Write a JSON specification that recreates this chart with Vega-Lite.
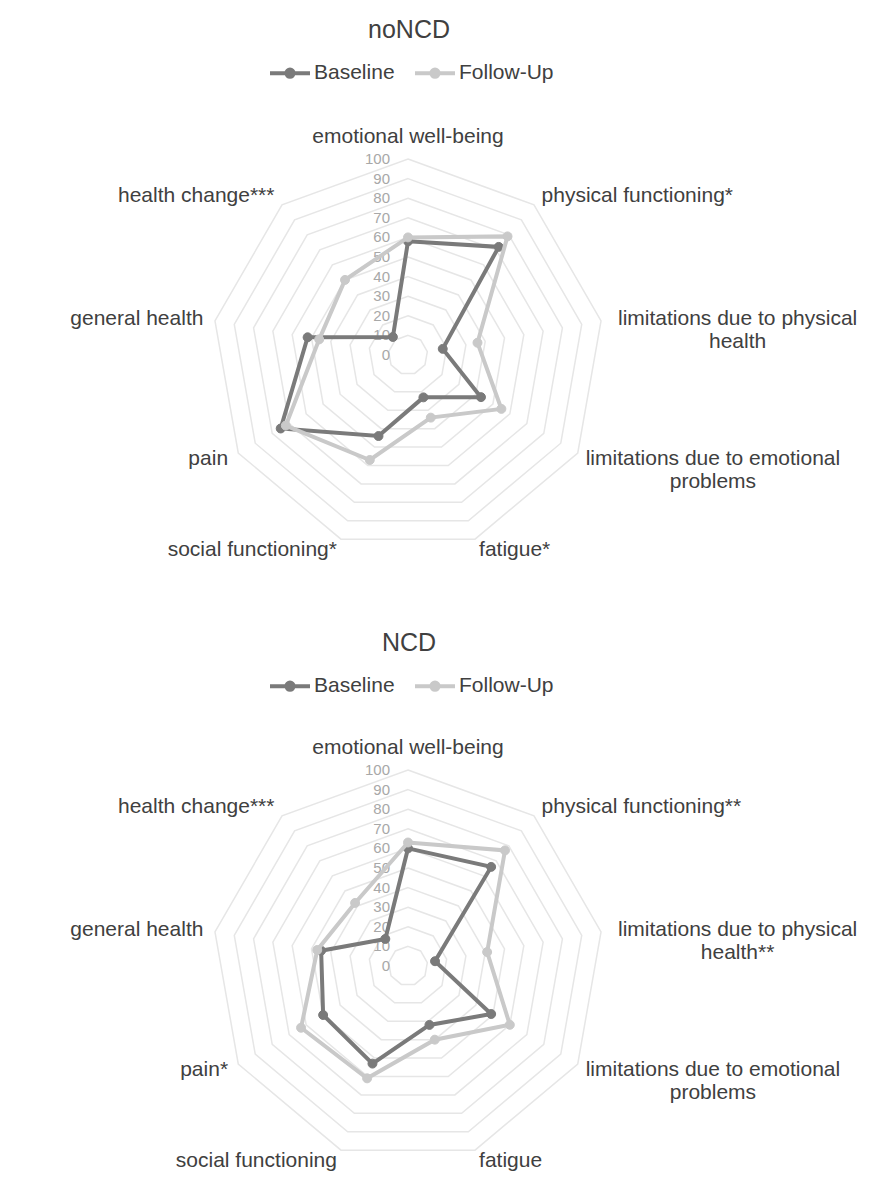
{
  "$schema": "https://vega.github.io/schema/vega-lite/v6.json",
  "config": {
    "view": {"stroke": null},
    "font": "Liberation Sans",
    "text": {"font": "Liberation Sans"}
  },
  "padding": {"top": 18, "left": 0, "right": 0, "bottom": 0},
  "spacing": 18,
  "datasets": {
    "noNCD": [
      {"i": 0, "label": "emotional well-being", "Baseline": 58, "Follow-Up": 60},
      {"i": 1, "label": "physical functioning*", "Baseline": 72, "Follow-Up": 79},
      {"i": 2, "label": "limitations due to physical\nhealth", "Baseline": 18, "Follow-Up": 36},
      {"i": 3, "label": "limitations due to emotional\nproblems", "Baseline": 43, "Follow-Up": 55},
      {"i": 4, "label": "fatigue*", "Baseline": 23, "Follow-Up": 34},
      {"i": 5, "label": "social functioning*", "Baseline": 44, "Follow-Up": 57},
      {"i": 6, "label": "pain", "Baseline": 75, "Follow-Up": 72},
      {"i": 7, "label": "general health", "Baseline": 52, "Follow-Up": 46},
      {"i": 8, "label": "health change***", "Baseline": 12, "Follow-Up": 50}
    ],
    "NCD": [
      {"i": 0, "label": "emotional well-being", "Baseline": 60, "Follow-Up": 63},
      {"i": 1, "label": "physical functioning**", "Baseline": 66, "Follow-Up": 77},
      {"i": 2, "label": "limitations due to physical\nhealth**", "Baseline": 14, "Follow-Up": 41},
      {"i": 3, "label": "limitations due to emotional\nproblems", "Baseline": 49, "Follow-Up": 60},
      {"i": 4, "label": "fatigue", "Baseline": 32, "Follow-Up": 40},
      {"i": 5, "label": "social functioning", "Baseline": 53, "Follow-Up": 61},
      {"i": 6, "label": "pain*", "Baseline": 50, "Follow-Up": 63},
      {"i": 7, "label": "general health", "Baseline": 45, "Follow-Up": 47},
      {"i": 8, "label": "health change***", "Baseline": 18, "Follow-Up": 42}
    ],
    "grid": [
      {"i": 0, "r": [10, 20, 30, 40, 50, 60, 70, 80, 90, 100]},
      {"i": 1, "r": [10, 20, 30, 40, 50, 60, 70, 80, 90, 100]},
      {"i": 2, "r": [10, 20, 30, 40, 50, 60, 70, 80, 90, 100]},
      {"i": 3, "r": [10, 20, 30, 40, 50, 60, 70, 80, 90, 100]},
      {"i": 4, "r": [10, 20, 30, 40, 50, 60, 70, 80, 90, 100]},
      {"i": 5, "r": [10, 20, 30, 40, 50, 60, 70, 80, 90, 100]},
      {"i": 6, "r": [10, 20, 30, 40, 50, 60, 70, 80, 90, 100]},
      {"i": 7, "r": [10, 20, 30, 40, 50, 60, 70, 80, 90, 100]},
      {"i": 8, "r": [10, 20, 30, 40, 50, 60, 70, 80, 90, 100]}
    ],
    "ticks": [
      {"r": 0}, {"r": 10}, {"r": 20}, {"r": 30}, {"r": 40}, {"r": 50},
      {"r": 60}, {"r": 70}, {"r": 80}, {"r": 90}, {"r": 100}
    ]
  },
  "resolve": {
    "scale": {"x": "independent", "y": "independent", "stroke": "independent", "fill": "independent"},
    "legend": {"stroke": "independent", "fill": "independent"}
  },
  "vconcat": [
    {
      "title": {"text": "noNCD", "fontSize": 25, "fontWeight": "normal", "color": "#404040", "anchor": "middle", "dx": -26, "offset": 7},
      "width": 870,
      "height": 563,
      "encoding": {
        "x": {"field": "x", "type": "quantitative", "axis": null, "scale": {"domain": [-208.16, 235.71], "nice": false, "zero": false}},
        "y": {"field": "y", "type": "quantitative", "axis": null, "scale": {"domain": [-131.63, 155.61], "nice": false, "zero": false}}
      },
      "layer": [
        {
          "data": {"name": "grid"},
          "transform": [
            {"flatten": ["r"]},
            {"calculate": "datum.r*sin(datum.i*PI/4.5)", "as": "x"},
            {"calculate": "datum.r*cos(datum.i*PI/4.5)", "as": "y"}
          ],
          "mark": {"type": "line", "interpolate": "linear-closed", "stroke": "#e6e6e6", "strokeWidth": 1.5},
          "encoding": {"detail": {"field": "r"}, "order": {"field": "i"}}
        },
        {
          "data": {"name": "ticks"},
          "transform": [
            {"calculate": "0", "as": "x"},
            {"calculate": "datum.r", "as": "y"}
          ],
          "mark": {"type": "text", "align": "right", "baseline": "middle", "dx": -18, "fontSize": 15, "color": "#a8a8a8"},
          "encoding": {"text": {"field": "r"}}
        },
        {
          "data": {"name": "noNCD"},
          "transform": [
            {"filter": "datum.i == 0"},
            {"calculate": "106*sin(datum.i*PI/4.5)", "as": "x"},
            {"calculate": "106*cos(datum.i*PI/4.5)", "as": "y"}
          ],
          "mark": {"type": "text", "align": "center", "baseline": "bottom", "fontSize": 21, "color": "#404040"},
          "encoding": {"text": {"field": "label"}}
        },
        {
          "data": {"name": "noNCD"},
          "transform": [
            {"filter": "datum.i == 1 || datum.i == 4"},
            {"calculate": "106*sin(datum.i*PI/4.5)", "as": "x"},
            {"calculate": "106*cos(datum.i*PI/4.5)", "as": "y"}
          ],
          "mark": {"type": "text", "align": "left", "baseline": "middle", "fontSize": 21, "color": "#404040"},
          "encoding": {"text": {"field": "label"}}
        },
        {
          "data": {"name": "noNCD"},
          "transform": [
            {"filter": "datum.i == 2 || datum.i == 3"},
            {"calculate": "106*sin(datum.i*PI/4.5)", "as": "x"},
            {"calculate": "106*cos(datum.i*PI/4.5)", "as": "y"}
          ],
          "mark": {"type": "text", "align": "center", "baseline": "middle", "dx": 125, "lineBreak": "\n", "lineHeight": 23, "fontSize": 21, "color": "#404040"},
          "encoding": {"text": {"field": "label"}}
        },
        {
          "data": {"name": "noNCD"},
          "transform": [
            {"filter": "datum.i >= 5"},
            {"calculate": "106*sin(datum.i*PI/4.5)", "as": "x"},
            {"calculate": "106*cos(datum.i*PI/4.5)", "as": "y"}
          ],
          "mark": {"type": "text", "align": "right", "baseline": "middle", "fontSize": 21, "color": "#404040"},
          "encoding": {"text": {"field": "label"}}
        },
        {
          "data": {"name": "noNCD"},
          "transform": [
            {"fold": ["Baseline", "Follow-Up"], "as": ["series", "value"]},
            {"calculate": "datum.value*sin(datum.i*PI/4.5)", "as": "x"},
            {"calculate": "datum.value*cos(datum.i*PI/4.5)", "as": "y"}
          ],
          "layer": [
            {
              "transform": [{"filter": "datum.series == 'Baseline'"}],
              "mark": {"type": "line", "interpolate": "linear-closed", "strokeWidth": 4},
              "encoding": {"order": {"field": "i"}}
            },
            {
              "transform": [{"filter": "datum.series == 'Baseline'"}],
              "mark": {"type": "point", "filled": true, "size": 80, "opacity": 1, "strokeWidth": 1},
              "encoding": {
                "fill": {
                  "field": "series", "type": "nominal",
                  "scale": {"domain": ["Baseline", "Follow-Up"], "range": ["#7a7a7a", "#c9c9c9"]},
                  "legend": {"orient": "none", "legendX": 268, "legendY": 1, "direction": "horizontal", "title": null, "labelFontSize": 21, "labelColor": "#404040", "labelFont": "Liberation Sans", "symbolType": "M-1,0H1M-0.18,0A0.18,0.18,0,1,0,0.18,0A0.18,0.18,0,1,0,-0.18,0Z", "symbolSize": 1600, "symbolStrokeWidth": 4, "labelOffset": 2, "columnPadding": 12}
                }
              }
            },
            {
              "transform": [{"filter": "datum.series == 'Follow-Up'"}],
              "mark": {"type": "line", "interpolate": "linear-closed", "strokeWidth": 4},
              "encoding": {"order": {"field": "i"}}
            },
            {
              "transform": [{"filter": "datum.series == 'Follow-Up'"}],
              "mark": {"type": "point", "filled": true, "size": 80, "opacity": 1, "strokeWidth": 1},
              "encoding": {
                "fill": {
                  "field": "series", "type": "nominal",
                  "scale": {"domain": ["Baseline", "Follow-Up"], "range": ["#7a7a7a", "#c9c9c9"]},
                  "legend": {"orient": "none", "legendX": 268, "legendY": 1, "direction": "horizontal", "title": null, "labelFontSize": 21, "labelColor": "#404040", "labelFont": "Liberation Sans", "symbolType": "M-1,0H1M-0.18,0A0.18,0.18,0,1,0,0.18,0A0.18,0.18,0,1,0,-0.18,0Z", "symbolSize": 1600, "symbolStrokeWidth": 4, "labelOffset": 2, "columnPadding": 12}
                }
              }
            }
          ],
          "encoding": {
            "stroke": {
              "field": "series", "type": "nominal",
              "scale": {"domain": ["Baseline", "Follow-Up"], "range": ["#7a7a7a", "#c9c9c9"]},
              "legend": {"orient": "none", "legendX": 268, "legendY": 1, "direction": "horizontal", "title": null, "labelFontSize": 21, "labelColor": "#404040", "labelFont": "Liberation Sans", "symbolType": "M-1,0H1M-0.18,0A0.18,0.18,0,1,0,0.18,0A0.18,0.18,0,1,0,-0.18,0Z", "symbolSize": 1600, "symbolStrokeWidth": 4, "labelOffset": 2, "columnPadding": 12}
            }
          }
        }
      ]
    },
    {
      "title": {"text": "NCD", "fontSize": 25, "fontWeight": "normal", "color": "#404040", "anchor": "middle", "dx": -26, "offset": 7},
      "width": 870,
      "height": 537,
      "encoding": {
        "x": {"field": "x", "type": "quantitative", "axis": null, "scale": {"domain": [-208.16, 235.71], "nice": false, "zero": false}},
        "y": {"field": "y", "type": "quantitative", "axis": null, "scale": {"domain": [-119.39, 154.59], "nice": false, "zero": false}}
      },
      "layer": [
        {
          "data": {"name": "grid"},
          "transform": [
            {"flatten": ["r"]},
            {"calculate": "datum.r*sin(datum.i*PI/4.5)", "as": "x"},
            {"calculate": "datum.r*cos(datum.i*PI/4.5)", "as": "y"}
          ],
          "mark": {"type": "line", "interpolate": "linear-closed", "stroke": "#e6e6e6", "strokeWidth": 1.5},
          "encoding": {"detail": {"field": "r"}, "order": {"field": "i"}}
        },
        {
          "data": {"name": "ticks"},
          "transform": [
            {"calculate": "0", "as": "x"},
            {"calculate": "datum.r", "as": "y"}
          ],
          "mark": {"type": "text", "align": "right", "baseline": "middle", "dx": -18, "fontSize": 15, "color": "#a8a8a8"},
          "encoding": {"text": {"field": "r"}}
        },
        {
          "data": {"name": "NCD"},
          "transform": [
            {"filter": "datum.i == 0"},
            {"calculate": "106*sin(datum.i*PI/4.5)", "as": "x"},
            {"calculate": "106*cos(datum.i*PI/4.5)", "as": "y"}
          ],
          "mark": {"type": "text", "align": "center", "baseline": "bottom", "fontSize": 21, "color": "#404040"},
          "encoding": {"text": {"field": "label"}}
        },
        {
          "data": {"name": "NCD"},
          "transform": [
            {"filter": "datum.i == 1 || datum.i == 4"},
            {"calculate": "106*sin(datum.i*PI/4.5)", "as": "x"},
            {"calculate": "106*cos(datum.i*PI/4.5)", "as": "y"}
          ],
          "mark": {"type": "text", "align": "left", "baseline": "middle", "fontSize": 21, "color": "#404040"},
          "encoding": {"text": {"field": "label"}}
        },
        {
          "data": {"name": "NCD"},
          "transform": [
            {"filter": "datum.i == 2 || datum.i == 3"},
            {"calculate": "106*sin(datum.i*PI/4.5)", "as": "x"},
            {"calculate": "106*cos(datum.i*PI/4.5)", "as": "y"}
          ],
          "mark": {"type": "text", "align": "center", "baseline": "middle", "dx": 125, "lineBreak": "\n", "lineHeight": 23, "fontSize": 21, "color": "#404040"},
          "encoding": {"text": {"field": "label"}}
        },
        {
          "data": {"name": "NCD"},
          "transform": [
            {"filter": "datum.i >= 5"},
            {"calculate": "106*sin(datum.i*PI/4.5)", "as": "x"},
            {"calculate": "106*cos(datum.i*PI/4.5)", "as": "y"}
          ],
          "mark": {"type": "text", "align": "right", "baseline": "middle", "fontSize": 21, "color": "#404040"},
          "encoding": {"text": {"field": "label"}}
        },
        {
          "data": {"name": "NCD"},
          "transform": [
            {"fold": ["Baseline", "Follow-Up"], "as": ["series", "value"]},
            {"calculate": "datum.value*sin(datum.i*PI/4.5)", "as": "x"},
            {"calculate": "datum.value*cos(datum.i*PI/4.5)", "as": "y"}
          ],
          "layer": [
            {
              "transform": [{"filter": "datum.series == 'Baseline'"}],
              "mark": {"type": "line", "interpolate": "linear-closed", "strokeWidth": 4},
              "encoding": {"order": {"field": "i"}}
            },
            {
              "transform": [{"filter": "datum.series == 'Baseline'"}],
              "mark": {"type": "point", "filled": true, "size": 80, "opacity": 1, "strokeWidth": 1},
              "encoding": {
                "fill": {
                  "field": "series", "type": "nominal",
                  "scale": {"domain": ["Baseline", "Follow-Up"], "range": ["#7a7a7a", "#c9c9c9"]},
                  "legend": {"orient": "none", "legendX": 268, "legendY": 1, "direction": "horizontal", "title": null, "labelFontSize": 21, "labelColor": "#404040", "labelFont": "Liberation Sans", "symbolType": "M-1,0H1M-0.18,0A0.18,0.18,0,1,0,0.18,0A0.18,0.18,0,1,0,-0.18,0Z", "symbolSize": 1600, "symbolStrokeWidth": 4, "labelOffset": 2, "columnPadding": 12}
                }
              }
            },
            {
              "transform": [{"filter": "datum.series == 'Follow-Up'"}],
              "mark": {"type": "line", "interpolate": "linear-closed", "strokeWidth": 4},
              "encoding": {"order": {"field": "i"}}
            },
            {
              "transform": [{"filter": "datum.series == 'Follow-Up'"}],
              "mark": {"type": "point", "filled": true, "size": 80, "opacity": 1, "strokeWidth": 1},
              "encoding": {
                "fill": {
                  "field": "series", "type": "nominal",
                  "scale": {"domain": ["Baseline", "Follow-Up"], "range": ["#7a7a7a", "#c9c9c9"]},
                  "legend": {"orient": "none", "legendX": 268, "legendY": 1, "direction": "horizontal", "title": null, "labelFontSize": 21, "labelColor": "#404040", "labelFont": "Liberation Sans", "symbolType": "M-1,0H1M-0.18,0A0.18,0.18,0,1,0,0.18,0A0.18,0.18,0,1,0,-0.18,0Z", "symbolSize": 1600, "symbolStrokeWidth": 4, "labelOffset": 2, "columnPadding": 12}
                }
              }
            }
          ],
          "encoding": {
            "stroke": {
              "field": "series", "type": "nominal",
              "scale": {"domain": ["Baseline", "Follow-Up"], "range": ["#7a7a7a", "#c9c9c9"]},
              "legend": {"orient": "none", "legendX": 268, "legendY": 1, "direction": "horizontal", "title": null, "labelFontSize": 21, "labelColor": "#404040", "labelFont": "Liberation Sans", "symbolType": "M-1,0H1M-0.18,0A0.18,0.18,0,1,0,0.18,0A0.18,0.18,0,1,0,-0.18,0Z", "symbolSize": 1600, "symbolStrokeWidth": 4, "labelOffset": 2, "columnPadding": 12}
            }
          }
        }
      ]
    }
  ]
}
